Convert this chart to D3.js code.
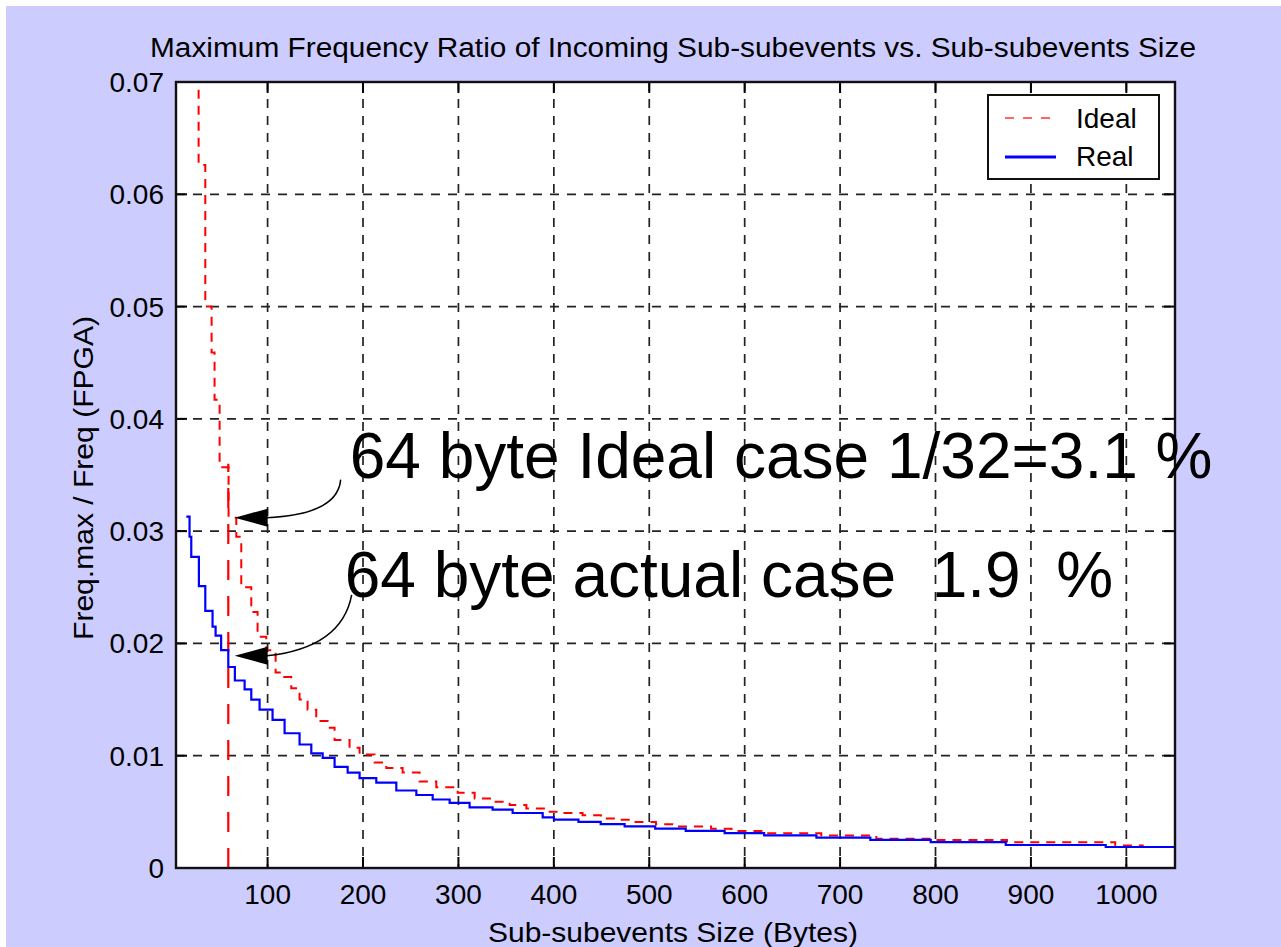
<!DOCTYPE html>
<html lang="en">
<head>
  <meta charset="UTF-8">
  <title>Maximum Frequency Ratio</title>
  <script src="https://d3js.org/d3.v7.min.js"></script>
  <style>
    body { margin: 0; background: #fff; }
    .tick-label { font: 28px "Liberation Sans", Arial, sans-serif; fill: #000; }
    .grid { stroke: #222; stroke-width: 1.7px; stroke-dasharray: 9 8; }
    .note { font: 64px "Liberation Sans", Arial, sans-serif; fill: #000; white-space: pre; }
  </style>
</head>
<body>
  <svg width="1281" height="947"></svg>
  <script>
// values (x in bytes, y as ratio)
const idealX = [20, 27.7, 34.7, 41.3, 44.4, 49.7, 59.1, 67.2, 72.4, 82.9,
  89.5, 98.6, 108.4, 114.4, 124.8, 133.5, 141.9, 151.0, 162.9, 170.2,
  185.9, 196.4, 212.2, 224.4, 241.5, 259.3, 276.8, 299.2, 317.0, 335.8,
  353.7, 371.2, 395.6, 408.6, 430.1, 449.3, 468.6, 485.6, 507.0, 526.3,
  564.8, 586.2, 622.5, 680.3, 738.0, 795.8, 874.9, 988.4, 1018.2];
const idealY = [0.1, 0.0626, 0.0500, 0.0459, 0.0417, 0.0357, 0.0312, 0.0295, 0.0250, 0.0228,
  0.0206, 0.0194, 0.0174, 0.0170, 0.0160, 0.0150, 0.0141, 0.0131, 0.0125, 0.0114,
  0.0107, 0.0101, 0.0094, 0.0089, 0.0085, 0.0077, 0.0072, 0.0067, 0.0062, 0.0059,
  0.0056, 0.0053, 0.0050, 0.0049, 0.0047, 0.0044, 0.0043, 0.0041, 0.0039, 0.0037,
  0.0035, 0.0033, 0.0031, 0.0029, 0.0026, 0.0025, 0.0023, 0.0020, 0.0020];

const realX = [14.8, 18.2, 20.0, 28.0, 34.7, 42.3, 45.5, 51.3, 58.8, 65.7,
  75.9, 82.9, 91.6, 105.2, 117.8, 133.5, 145.8, 157.7, 170.2, 183.9,
  196.4, 213.9, 234.9, 255.9, 273.0, 290.8, 311.7, 335.8, 356.8, 388.3,
  400.1, 425.8, 449.1, 474.2, 506.2, 538.2, 579.0, 620.4, 675.2, 731.7,
  795.0, 873.6, 978.4, 1051];
const realY = [0.0313, 0.0295, 0.0277, 0.0251, 0.0229, 0.0215, 0.0207, 0.0194, 0.0179, 0.0167,
  0.0159, 0.0150, 0.0141, 0.0132, 0.0120, 0.0110, 0.0102, 0.0098, 0.0090, 0.0085,
  0.0080, 0.0076, 0.0069, 0.0065, 0.0061, 0.0058, 0.0054, 0.0052, 0.0049, 0.0045,
  0.0043, 0.0041, 0.0039, 0.0037, 0.0035, 0.0033, 0.0031, 0.0029, 0.0027, 0.0025,
  0.0023, 0.00205, 0.00187, 0.00187];

// the red long-dash marker at 64 bytes
const markerX = [58.8];
const markerTop = [0.036];

const xTicks = [100, 200, 300, 400, 500, 600, 700, 800, 900, 1000];
const yTicks = [0, 0.01, 0.02, 0.03, 0.04, 0.05, 0.06, 0.07];
const yTickLabels = ["0", "0.01", "0.02", "0.03", "0.04", "0.05", "0.06", "0.07"];

const seriesNames = ["Ideal", "Real"];
const noteTexts = ["64 byte Ideal case 1/32=3.1 %", "64 byte actual case  1.9  %"];
const noteX = [65.5, 65.5];
const noteY = [0.0312, 0.0189];

const titleText = "Maximum Frequency Ratio of Incoming Sub-subevents vs. Sub-subevents Size";
const xLabel = "Sub-subevents Size (Bytes)";
const yLabel = "Freq.max / Freq (FPGA)";

// layout
const W = 1281, H = 947;
const L = 176, R = 1175, T = 82, B = 868;

const svg = d3.select("svg");

svg.append("rect").attr("x", 6).attr("y", 6).attr("width", W - 6).attr("height", H - 6)
  .attr("fill", "#ccccff");

const x = d3.scaleLinear().domain([4, 1051]).range([L, R]);
const y = d3.scaleLinear().domain([0, 0.07]).range([B, T]);

svg.append("defs").append("clipPath").attr("id", "plot")
  .append("rect").attr("x", L).attr("y", T).attr("width", R - L).attr("height", B - T);

svg.append("rect").attr("x", L).attr("y", T).attr("width", R - L).attr("height", B - T)
  .attr("fill", "#fff");

// grid
svg.append("g").selectAll("line").data(xTicks).join("line")
  .attr("class", "grid")
  .attr("x1", d => x(d)).attr("x2", d => x(d)).attr("y1", T).attr("y2", B);
svg.append("g").selectAll("line").data(yTicks.filter(d => d > 0 && d < 0.07)).join("line")
  .attr("class", "grid")
  .attr("x1", L).attr("x2", R).attr("y1", d => y(d)).attr("y2", d => y(d));

// inward ticks on all four sides
const tk = 11;
const ticks = svg.append("g").attr("stroke", "#000").attr("stroke-width", 2);
xTicks.forEach(d => {
  ticks.append("line").attr("x1", x(d)).attr("x2", x(d)).attr("y1", B).attr("y2", B - tk);
  ticks.append("line").attr("x1", x(d)).attr("x2", x(d)).attr("y1", T).attr("y2", T + tk);
});
yTicks.forEach(d => {
  ticks.append("line").attr("x1", L).attr("x2", L + tk).attr("y1", y(d)).attr("y2", y(d));
  ticks.append("line").attr("x1", R).attr("x2", R - tk).attr("y1", y(d)).attr("y2", y(d));
});

// series
const step = d3.line().curve(d3.curveStepAfter).x(d => x(d[0])).y(d => y(d[1]));
const plot = svg.append("g").attr("clip-path", "url(#plot)");

plot.append("line")
  .attr("x1", x(markerX[0])).attr("x2", x(markerX[0]))
  .attr("y1", y(0)).attr("y2", y(markerTop[0]))
  .attr("stroke", "#ff0000").attr("stroke-width", 2.2).attr("stroke-dasharray", "20 16");

plot.append("path")
  .attr("d", step(idealX.map((v, i) => [v, idealY[i]])))
  .attr("fill", "none").attr("stroke", "#ff0000").attr("stroke-width", 2)
  .attr("stroke-dasharray", "9 7");

plot.append("path")
  .attr("d", step(realX.map((v, i) => [v, realY[i]])))
  .attr("fill", "none").attr("stroke", "#0000ff").attr("stroke-width", 2.2);

// axes box
svg.append("rect").attr("x", L).attr("y", T).attr("width", R - L).attr("height", B - T)
  .attr("fill", "none").attr("stroke", "#111").attr("stroke-width", 2.4);

// tick labels
svg.append("g").selectAll("text").data(xTicks).join("text")
  .attr("class", "tick-label")
  .attr("x", d => x(d)).attr("y", 904)
  .attr("text-anchor", "middle")
  .text(d => d);
svg.append("g").selectAll("text").data(yTicks).join("text")
  .attr("class", "tick-label")
  .attr("x", 164).attr("y", d => y(d) + 10)
  .attr("text-anchor", "end")
  .text((d, i) => yTickLabels[i]);

// title and axis labels
svg.append("text").attr("class", "tick-label")
  .attr("x", 673).attr("y", 57).attr("text-anchor", "middle")
  .style("font-size", "27px")
  .attr("textLength", 1046).attr("lengthAdjust", "spacingAndGlyphs")
  .text(titleText);
svg.append("text").attr("class", "tick-label")
  .attr("x", 673).attr("y", 942).attr("text-anchor", "middle")
  .style("font-size", "28px")
  .attr("textLength", 370).attr("lengthAdjust", "spacingAndGlyphs")
  .text(xLabel);
svg.append("text").attr("class", "tick-label")
  .attr("transform", "translate(93,478) rotate(-90)")
  .attr("text-anchor", "middle")
  .style("font-size", "28px")
  .attr("textLength", 324).attr("lengthAdjust", "spacingAndGlyphs")
  .text(yLabel);

// legend
const lg = svg.append("g");
lg.append("rect").attr("x", 988).attr("y", 95).attr("width", 171).attr("height", 84)
  .attr("fill", "#fff").attr("stroke", "#111").attr("stroke-width", 2);
lg.append("line").attr("x1", 1005).attr("x2", 1054).attr("y1", 118).attr("y2", 118)
  .attr("stroke", "#ff3333").attr("stroke-width", 1.4).attr("stroke-dasharray", "9 9");
lg.append("line").attr("x1", 1005).attr("x2", 1056).attr("y1", 157).attr("y2", 157)
  .attr("stroke", "#0000ff").attr("stroke-width", 3);
lg.selectAll("text").data(seriesNames).join("text")
  .attr("class", "tick-label")
  .attr("x", 1076).attr("y", (d, i) => 128 + i * 38)
  .text(d => d);

// annotations with curved arrows
const notes = svg.append("g");
const textOff = [[115, -40], [110, -59]];
const curveFrom = [[106, -38], [117, -61]];
const curveCtrl = [[103, -3], [107, -8]];
noteTexts.forEach((t, i) => {
  const tx = x(noteX[i]), ty = y(noteY[i]);
  const p = d3.path();
  p.moveTo(tx + curveFrom[i][0], ty + curveFrom[i][1]);
  p.quadraticCurveTo(tx + curveCtrl[i][0], ty + curveCtrl[i][1], tx + 32, ty);
  notes.append("path").attr("d", p.toString())
    .attr("fill", "none").attr("stroke", "#000").attr("stroke-width", 1.5);
  notes.append("path")
    .attr("d", `M${tx},${ty} L${tx + 33},${ty - 9} L${tx + 33},${ty + 9} Z`)
    .attr("fill", "#000");
  notes.append("text").attr("class", "note")
    .attr("x", tx + textOff[i][0]).attr("y", ty + textOff[i][1])
    .text(t);
});
  </script>
</body>
</html>
